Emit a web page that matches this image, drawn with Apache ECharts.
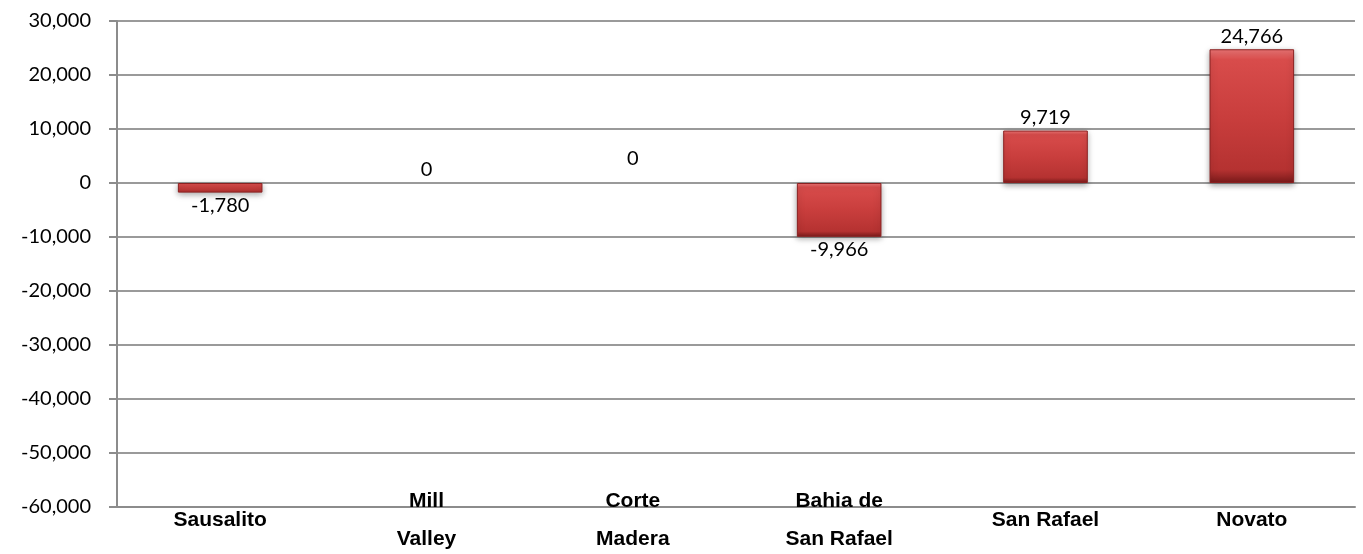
<!DOCTYPE html>
<html>
<head>
<meta charset="utf-8">
<script src="https://cdn.jsdelivr.net/npm/echarts@6/dist/echarts.min.js"></script>
<style>
  html, body { margin: 0; padding: 0; background: #fff; }
  #chart { width: 1363px; height: 554px; }
</style>
</head>
<body>
<div id="chart"></div>
<script>
// data
var places = ['Sausalito', 'Mill\nValley', 'Corte\nMadera', 'Bahia de\nSan Rafael', 'San Rafael', 'Novato'];
var change = [-1780, 0, 0, -9966, 9719, 24766];
var yTicks = { min: -60000, max: 30000, step: 10000 };

var fmt = function (v) { return Number(v).toLocaleString('en-US'); };

// bevel-ish red fill
var barFill = new echarts.graphic.LinearGradient(0, 0, 0, 1, [
  { offset: 0, color: '#ee7676' },
  { offset: 0.08, color: '#d84c4b' },
  { offset: 0.5, color: '#c93e3d' },
  { offset: 0.9, color: '#b53231' },
  { offset: 1, color: '#7a1a1a' }
]);

var seriesData = change.map(function (v, i) {
  var item = { value: v, label: { position: v < 0 ? 'bottom' : 'top' } };
  if (v === 0) {
    // excel draws nothing for a zero bar, just the label
    item.itemStyle = { color: 'rgba(0,0,0,0)', borderWidth: 0, shadowBlur: 0 };
  }
  // second zero label sits a bit higher
  if (i === 2) item.label.offset = [0, -11];
  return item;
});

var chart = echarts.init(document.getElementById('chart'));
chart.setOption({
  animation: false,
  grid: { left: 117, right: 8, top: 21, bottom: 47, containLabel: false, outerBoundsMode: 'none' },
  xAxis: {
    type: 'category',
    data: places,
    axisLine: { onZero: false, lineStyle: { color: '#8c8c8c', width: 2 } },
    axisTick: { show: false },
    axisLabel: {
      interval: 0,
      margin: 13,
      verticalAlign: 'middle',
      lineHeight: 38,
      color: '#000',
      fontWeight: 'bold',
      fontSize: 21,
      fontFamily: '"Liberation Sans", Arial, sans-serif'
    }
  },
  yAxis: {
    type: 'value',
    min: yTicks.min,
    max: yTicks.max,
    interval: yTicks.step,
    axisLine: { show: true, lineStyle: { color: '#8c8c8c', width: 2 } },
    axisTick: { show: true, length: 8, lineStyle: { color: '#8c8c8c', width: 2 } },
    splitLine: { lineStyle: { color: '#9a9a9a', width: 2 } },
    axisLabel: {
      margin: 26,
      color: '#000',
      fontSize: 20,
      fontFamily: 'Lato, "Open Sans", sans-serif',
      formatter: fmt
    }
  },
  series: [{
    type: 'bar',
    data: seriesData,
    barCategoryGap: '59%',
    itemStyle: {
      color: barFill,
      borderColor: '#8a2020',
      borderWidth: 1,
      shadowColor: 'rgba(0,0,0,0.35)',
      shadowBlur: 6,
      shadowOffsetY: 2
    },
    label: {
      show: true,
      distance: 3,
      color: '#000',
      fontSize: 20,
      fontFamily: 'Lato, "Open Sans", sans-serif',
      formatter: function (p) { return fmt(p.value); }
    }
  }]
});
</script>
</body>
</html>
